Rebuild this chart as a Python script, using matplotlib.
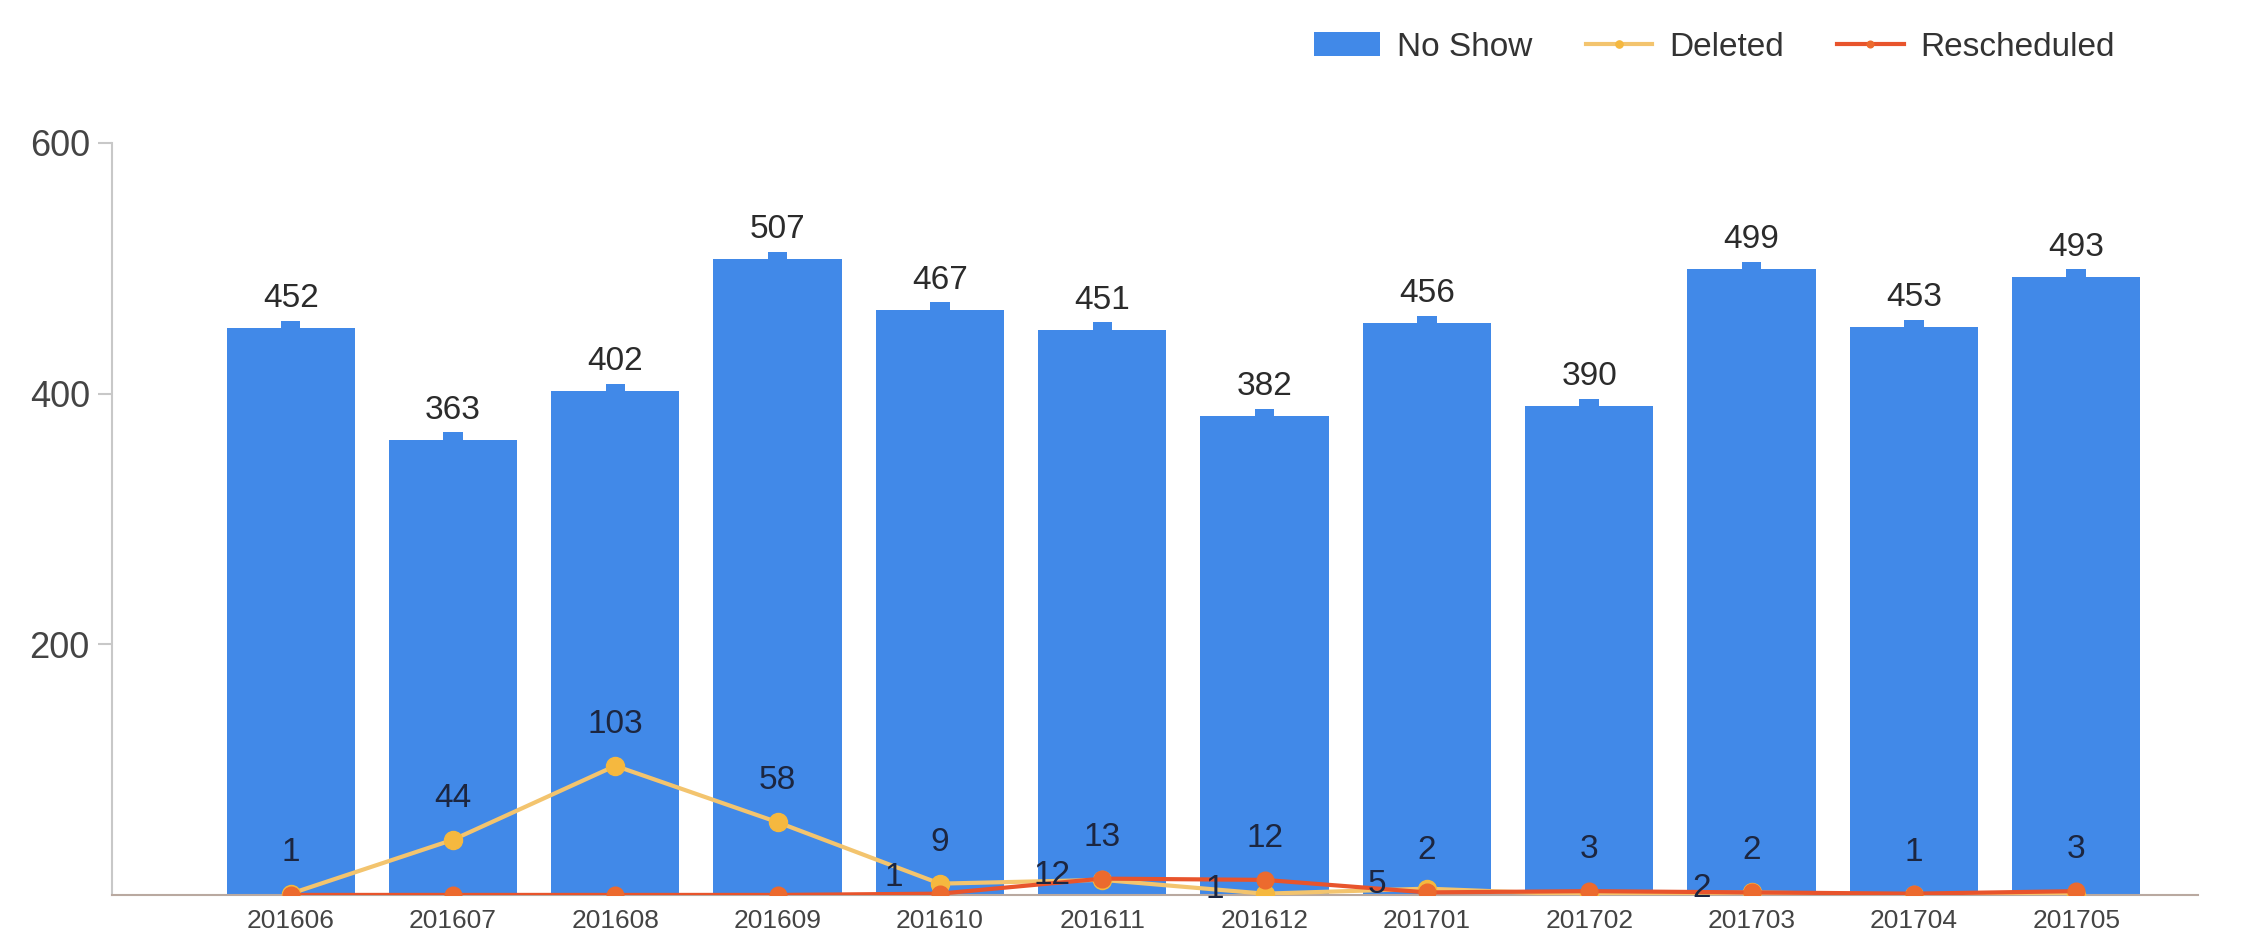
import matplotlib.pyplot as plt
import numpy as np

plt.rcParams['font.family'] = ['Liberation Sans', 'DejaVu Sans']

months = ['201606', '201607', '201608', '201609', '201610', '201611',
          '201612', '201701', '201702', '201703', '201704', '201705']
no_show = [452, 363, 402, 507, 467, 451, 382, 456, 390, 499, 453, 493]
deleted = [1, 44, 103, 58, 9, 12, 1, 5, 0, 2, 0, 0]
rescheduled = [0, 0, 0, 0, 1, 13, 12, 2, 3, 2, 1, 3]

x = np.arange(len(months))

fig = plt.figure(figsize=(22.46, 9.46), dpi=100)
ax = fig.add_axes([0.0499, 0.054, 0.9287, 0.795])

bar_color = '#4189E8'
bars = ax.bar(x, no_show, width=0.79, color=bar_color, zorder=2, label='No Show')
# little cap on top of each bar
ax.bar(x, 6, width=0.12, bottom=no_show, color=bar_color, zorder=2)

l_del, = ax.plot(x, deleted, color='#F3C46E', lw=3, marker='o', ms=13,
                 mfc='#F5B83F', mec='#F5B83F', zorder=3, label='Deleted')
l_res, = ax.plot(x, rescheduled, color='#E8542C', lw=3, marker='o', ms=12,
                 mfc='#EC6A2E', mec='#EC6A2E', zorder=4, label='Rescheduled')

# bar labels
for xi, v in zip(x, no_show):
    ax.annotate(str(v), (xi, v), xytext=(0, 14), textcoords='offset pixels',
                ha='center', va='bottom', fontsize=24, color='#2b2b2b')

# line labels: above the marker, or to the left when the points crowd
lab_col = '#1c2640'
for i, v in enumerate(deleted):
    if v == 0:
        continue
    if i <= 4:
        ax.annotate(str(v), (i, v), xytext=(0, 26), textcoords='offset pixels',
                    ha='center', va='bottom', fontsize=24, color=lab_col, zorder=5)
    else:
        ax.annotate(str(v), (i, v), xytext=(-50, 4), textcoords='offset pixels',
                    ha='center', va='center', fontsize=24, color=lab_col, zorder=5)
for i, v in enumerate(rescheduled):
    if v == 0:
        continue
    if i <= 4:
        ax.annotate(str(v), (i, v), xytext=(-46, 16), textcoords='offset pixels',
                    ha='center', va='center', fontsize=24, color=lab_col, zorder=5)
    else:
        ax.annotate(str(v), (i, v), xytext=(0, 26), textcoords='offset pixels',
                    ha='center', va='bottom', fontsize=24, color=lab_col, zorder=5)

ax.set_xlim(-1.1, 11.75)
ax.set_ylim(0, 600)
ax.set_yticks([200, 400, 600])
ax.set_xticks(x)
ax.set_xticklabels(months)

for s in ['top', 'right']:
    ax.spines[s].set_visible(False)
ax.spines['left'].set_color('#c8c8c8')
ax.spines['bottom'].set_color('#b9a9a0')
ax.spines['left'].set_linewidth(1.5)
ax.spines['bottom'].set_linewidth(1.5)
ax.tick_params(axis='y', labelsize=26, labelcolor='#444444', color='#c8c8c8',
               length=10, width=1.5, pad=6)
ax.tick_params(axis='x', labelsize=19, labelcolor='#444444', length=0, pad=10)

fig.legend(handles=[bars, l_del, l_res], loc='center right',
           bbox_to_anchor=(0.955, 0.95), ncol=3, frameon=False, fontsize=24,
           handlelength=2.0, handletextpad=0.5, columnspacing=1.6,
           markerscale=0.4, labelcolor='#333333')

fig.savefig('out.png', dpi=100)
